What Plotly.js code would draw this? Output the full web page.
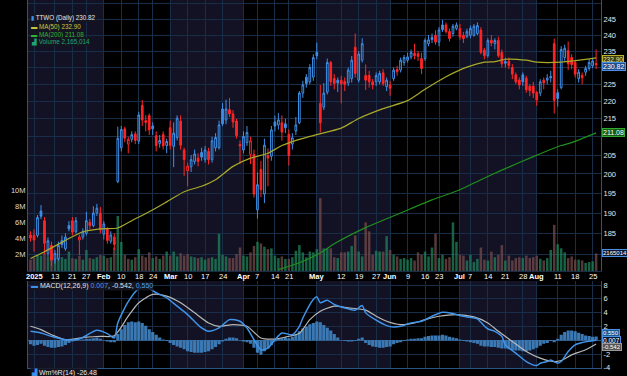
<!DOCTYPE html>
<html><head><meta charset="utf-8">
<script src="https://cdn.plot.ly/plotly-3.0.1.min.js"></script>
<style>html,body{margin:0;padding:0;background:#000;}#chart{width:627px;height:376px;}</style>
</head><body><div id="chart"></div>
<script>
const dates = ["2024-12-31",
"2025-01-02","2025-01-03","2025-01-06","2025-01-07","2025-01-08","2025-01-10","2025-01-13","2025-01-14","2025-01-15","2025-01-16","2025-01-17","2025-01-21","2025-01-22","2025-01-23","2025-01-24","2025-01-27","2025-01-28","2025-01-29","2025-01-30","2025-01-31",
"2025-02-03","2025-02-04","2025-02-05","2025-02-06","2025-02-07","2025-02-10","2025-02-11","2025-02-12","2025-02-13","2025-02-14","2025-02-18","2025-02-19","2025-02-20","2025-02-21","2025-02-24","2025-02-25","2025-02-26","2025-02-27","2025-02-28",
"2025-03-03","2025-03-04","2025-03-05","2025-03-06","2025-03-07","2025-03-10","2025-03-11","2025-03-12","2025-03-13","2025-03-14","2025-03-17","2025-03-18","2025-03-19","2025-03-20","2025-03-21","2025-03-24","2025-03-25","2025-03-26","2025-03-27","2025-03-28","2025-03-31",
"2025-04-01","2025-04-02","2025-04-03","2025-04-04","2025-04-07","2025-04-08","2025-04-09","2025-04-10","2025-04-11","2025-04-14","2025-04-15","2025-04-16","2025-04-17","2025-04-21","2025-04-22","2025-04-23","2025-04-24","2025-04-25","2025-04-28","2025-04-29","2025-04-30",
"2025-05-01","2025-05-02","2025-05-05","2025-05-06","2025-05-07","2025-05-08","2025-05-09","2025-05-12","2025-05-13","2025-05-14","2025-05-15","2025-05-16","2025-05-19","2025-05-20","2025-05-21","2025-05-22","2025-05-23","2025-05-27","2025-05-28","2025-05-29","2025-05-30",
"2025-06-02","2025-06-03","2025-06-04","2025-06-05","2025-06-06","2025-06-09","2025-06-10","2025-06-11","2025-06-12","2025-06-13","2025-06-16","2025-06-17","2025-06-18","2025-06-20","2025-06-23","2025-06-24","2025-06-25","2025-06-26","2025-06-27","2025-06-30",
"2025-07-01","2025-07-02","2025-07-03","2025-07-07","2025-07-08","2025-07-09","2025-07-10","2025-07-11","2025-07-14","2025-07-15","2025-07-16","2025-07-17","2025-07-18","2025-07-21","2025-07-22","2025-07-23","2025-07-24","2025-07-25","2025-07-28","2025-07-29","2025-07-30","2025-07-31",
"2025-08-01","2025-08-04","2025-08-05","2025-08-06","2025-08-07","2025-08-08","2025-08-11","2025-08-12","2025-08-13","2025-08-14","2025-08-15","2025-08-18","2025-08-19","2025-08-20","2025-08-21","2025-08-22","2025-08-25","2025-08-26"];

const open = [184.6,184.5,184.5,190.5,188.1,180.2,182.1,178.8,179.0,183.3,181.3,186.9,188.1,185.4,183.4,184.1,185.0,187.7,186.9,190.0,190.0,
184.8,186.0,183.1,184.1,198.0,207.0,212.2,208.0,209.3,210.8,208.8,218.8,214.5,215.9,213.0,210.3,208.2,210.6,207.6,
212.5,207.4,209.8,214.4,206.4,200.8,201.9,203.3,204.2,205.7,203.8,206.0,203.8,207.0,207.0,217.8,214.7,217.6,216.4,214.4,207.9,
206.4,208.4,205.2,205.2,190.8,201.2,194.8,204.9,204.7,214.1,213.3,213.9,213.6,210.7,208.0,211.6,213.9,222.4,227.1,225.7,227.1,
234.6,219.4,218.3,222.7,231.5,226.7,226.2,226.2,225.8,225.4,226.7,236.2,226.2,232.2,227.6,227.6,225.7,225.7,225.7,228.4,224.3,
224.8,226.7,229.4,229.2,231.5,232.2,233.2,234.3,234.2,232.7,232.7,237.3,239.3,239.9,237.8,243.2,243.2,241.1,240.5,242.1,
242.1,239.9,239.6,239.9,239.9,240.5,241.6,235.3,233.6,238.4,237.3,238.3,234.6,231.8,231.9,230.0,227.8,226.2,227.8,226.8,224.4,224.4,
222.6,222.4,226.2,226.2,227.3,237.3,222.5,224.0,233.0,235.2,233.0,231.5,226.7,227.6,228.6,229.7,230.5,231.2];
const high = [185.5,186.0,189.5,192.0,189.0,184.0,183.0,181.0,183.0,184.5,185.0,188.0,189.0,189.0,184.7,186.2,190.3,188.5,191.7,192.3,191.5,
188.0,186.5,185.5,185.0,212.8,213.0,212.8,210.0,211.5,211.5,217.0,220.4,216.0,216.5,214.0,211.5,210.5,211.5,209.5,
214.5,214.0,216.0,216.0,207.0,203.0,205.0,206.5,205.5,207.0,207.5,207.0,210.0,211.0,214.5,219.5,220.5,221.0,217.5,215.0,209.0,
211.5,213.0,210.0,206.5,200.4,203.5,209.5,206.8,213.0,215.9,216.6,216.0,215.0,212.0,211.0,215.5,223.0,226.0,228.0,231.0,234.0,
237.6,224.8,225.3,232.7,232.0,228.0,227.0,227.5,227.0,230.0,233.5,240.5,235.0,239.0,230.9,229.0,226.5,228.5,229.0,229.5,227.0,
226.0,230.0,230.5,233.0,233.8,234.5,235.5,237.3,235.0,234.5,239.0,240.0,240.5,241.5,242.5,244.8,244.0,242.0,243.5,244.0,
243.5,241.0,242.0,243.0,243.5,244.0,242.5,236.0,239.0,240.0,239.0,239.5,235.5,233.0,233.0,231.0,228.5,227.0,228.5,227.5,225.0,225.7,
223.0,226.5,227.0,228.0,229.0,238.9,223.5,236.5,237.0,238.0,234.0,232.0,229.5,228.5,230.5,232.5,232.8,235.5];
const low = [183.0,180.6,184.0,188.5,180.0,179.5,177.2,177.8,178.5,181.5,180.8,185.5,184.5,185.0,179.8,183.5,184.5,186.0,186.5,189.3,185.0,
183.5,182.5,182.5,181.0,197.6,206.0,208.5,205.5,208.5,208.0,208.0,213.0,211.5,210.5,210.5,206.0,207.0,206.5,205.5,
206.5,201.8,209.0,206.5,199.5,196.8,200.5,202.5,202.0,203.5,203.0,202.5,203.0,206.0,206.5,213.0,213.5,215.5,212.5,209.5,202.6,
205.5,207.5,202.6,193.9,188.6,194.0,192.5,196.8,203.5,211.5,212.0,208.9,211.0,202.2,206.5,210.5,213.5,221.0,224.0,225.0,226.0,
232.5,211.2,217.5,222.0,224.5,223.5,222.7,219.4,223.0,224.5,225.5,227.0,225.5,231.5,223.3,224.0,223.5,224.5,225.0,224.5,223.0,
221.6,226.0,227.5,228.5,230.5,231.5,232.5,232.5,232.0,228.0,232.0,236.5,237.5,237.0,236.5,241.0,240.5,238.0,239.5,241.5,
238.5,237.5,239.0,239.0,239.5,240.0,234.0,232.5,233.0,236.5,235.5,233.0,230.0,230.0,229.5,226.5,225.0,223.5,224.5,222.5,221.5,221.0,
218.7,221.5,223.5,225.0,225.5,216.5,218.5,223.5,232.0,229.2,229.5,227.0,225.5,225.0,227.5,229.0,229.8,229.5];
const close = [183.9,183.4,188.9,189.2,182.6,183.2,178.6,180.2,182.1,182.3,184.1,186.1,185.3,188.1,184.1,185.4,188.1,186.9,190.0,191.2,185.8,
187.3,183.3,184.6,182.3,209.6,212.0,209.6,209.3,210.6,209.0,216.1,214.7,214.0,211.9,212.2,207.6,209.0,207.5,208.7,
207.6,211.0,215.2,207.7,203.8,202.1,203.8,205.3,203.3,204.5,206.4,203.8,208.9,209.8,213.3,213.6,217.8,216.4,214.1,210.3,207.5,
210.1,211.2,208.9,194.8,197.2,195.9,207.7,204.2,211.9,213.0,214.7,211.3,212.5,204.9,209.7,213.3,222.4,224.8,225.2,230.0,233.0,
233.6,213.9,222.4,231.5,225.7,225.2,225.4,225.1,224.9,229.2,232.2,228.2,234.1,237.3,226.2,225.7,224.8,227.6,228.2,225.2,226.2,
223.8,229.2,228.7,232.2,233.0,233.2,234.6,233.6,233.4,229.7,238.3,238.5,238.6,237.8,241.6,241.7,241.1,238.9,242.8,243.2,
239.4,238.9,241.1,242.1,242.8,243.0,234.6,233.6,238.3,237.5,238.3,233.6,231.1,231.3,230.6,228.0,225.7,224.8,225.7,223.4,223.1,222.4,
220.4,225.7,225.4,226.8,226.9,220.3,220.8,235.5,235.9,231.1,230.9,228.0,228.6,226.9,229.7,231.5,232.0,230.82];
const prevCloseBefore = 185.0;

const volumeM = [1.4,
1.6,2.0,1.9,2.2,1.8,2.1,1.5,1.6,1.7,1.5,2.4,1.6,1.5,1.9,1.4,2.6,1.6,1.5,1.7,2.0,
1.9,1.6,1.7,2.9,6.8,3.6,2.0,1.5,1.4,1.7,2.7,1.9,1.7,2.3,1.6,1.8,1.5,1.9,2.4,
1.9,2.4,1.8,2.2,1.9,2.1,1.8,1.7,1.6,1.7,1.4,1.6,1.7,1.5,4.6,2.0,1.8,1.6,1.6,2.1,2.9,
1.9,1.8,2.3,3.1,3.6,3.4,3.0,2.7,2.8,1.9,1.6,1.8,1.5,1.5,1.7,2.5,3.2,2.3,1.7,2.4,2.3,
2.7,9.0,2.8,2.8,2.8,1.7,1.6,2.3,2.3,2.4,3.1,4.4,2.4,1.8,6.0,4.9,2.0,2.5,2.4,2.4,4.3,
2.6,2.0,1.8,1.5,1.6,1.4,1.6,1.3,2.3,2.0,2.4,1.8,2.9,4.6,1.6,2.0,1.5,1.7,6.0,3.6,
2.0,1.9,1.3,2.0,1.1,1.5,2.9,1.4,1.3,2.4,1.7,2.0,3.2,1.3,1.9,1.3,1.6,1.7,1.6,1.9,1.6,1.7,
1.9,1.5,1.3,1.6,2.6,5.7,3.3,2.8,2.3,1.6,1.8,1.4,1.4,1.3,1.0,1.1,1.2,2.165014];

const ma50At = [0,4,10,15,20,25,29,34,39,44,49,53,58,63,68,72,77,82,89,94,101,108,113,119,125,130,133,136,142,145,152,162];
const ma50 = [179.0,180.6,183.3,185.4,186.1,186.3,188.1,190.3,192.8,195.4,196.8,198.5,202.0,204.2,205.5,207.6,209.3,210.6,212.4,215.1,217.9,220.2,223.5,227.2,230.1,231.6,231.8,232.5,232.2,231.6,231.6,232.90];
const ma200At = [71,77,83,87,96,106,115,123,129,135,144,152,155,162];
const ma200 = [176.4,178.0,180.3,182.5,186.4,190.0,193.3,195.9,198.5,201.0,204.6,207.6,208.4,211.08];

const macdAt = [0,3,6,10,14,19,22,24,25,28,31,33,36,39,42,45,49,51,54,57,60,62,64,66,68,70,72,75,77,78,81,82,83,85,87,91,93,95,96,99,102,104,106,109,112,115,118,121,123,125,128,129,131,133,135,136,139,142,145,146,148,149,151,152,154,156,158,162];
const macd = [1.29,1.05,0.56,0.07,0.17,1.44,0.95,0.32,2.5,5.6,7.47,7.76,6.89,6.16,4.94,3.72,1.78,1.29,1.78,2.99,2.75,1.78,0.07,-1.39,-1.14,0.07,1.05,0.80,2.02,3.23,5.91,6.30,5.43,5.81,5.18,4.55,4.36,5.04,3.97,2.90,2.12,1.92,2.02,2.51,2.75,3.48,4.06,3.87,3.58,3.38,3.09,2.60,1.63,1.29,0.56,-0.66,-1.87,-3.09,-3.67,-3.33,-3.09,-2.85,-3.33,-3.09,-1.63,-0.66,-0.32,0.007];
const signalAt = [0,3,6,10,16,20,24,28,31,35,39,43,47,51,54,58,62,66,70,73,77,80,83,87,91,96,99,102,106,110,113,117,122,127,131,134,138,142,146,150,152,155,159,162];
const signal = [2.02,1.53,0.80,0.07,0.46,0.56,0.66,3.48,5.43,6.64,6.40,5.43,3.97,2.51,2.02,2.26,2.02,0.32,0.17,0.46,1.0,2.99,4.21,4.94,4.70,4.36,3.48,2.75,2.26,2.51,2.99,3.48,3.72,3.38,2.51,1.29,-0.17,-1.63,-2.60,-3.09,-2.94,-2.12,-1.39,-0.542];
const hist = [-0.6,-0.8,-0.7,-0.5,-0.8,-1.0,-1.1,-1.1,-1.0,-0.9,-0.7,-0.4,-0.2,-0.1,0.0,0.1,0.2,0.2,0.3,0.4,0.2,
0.0,-0.2,-0.3,-0.3,0.9,1.6,2.2,2.6,2.7,2.6,2.7,2.5,2.1,1.6,1.2,0.8,0.4,0.1,-0.1,
-0.4,-0.7,-0.9,-1.1,-1.3,-1.6,-1.7,-1.8,-1.8,-1.8,-1.7,-1.6,-1.3,-1.0,-0.6,-0.2,0.2,0.4,0.4,0.3,0.0,
-0.2,-0.3,-0.5,-1.1,-1.8,-2.1,-1.6,-1.2,-0.7,-0.2,0.2,0.3,0.4,0.3,0.5,0.8,1.3,1.7,2.0,2.3,2.5,
2.7,2.6,2.2,1.8,1.4,0.9,0.4,0.0,-0.1,-0.2,-0.2,-0.1,0.2,0.4,-0.4,-0.7,-0.9,-1.0,-1.1,-1.1,-1.0,
-0.9,-0.6,-0.4,-0.3,-0.1,0.1,0.2,0.2,0.3,0.3,0.5,0.6,0.7,0.7,0.7,0.8,0.7,0.5,0.4,0.3,
0.1,-0.1,-0.2,-0.3,-0.4,-0.5,-0.8,-0.9,-0.9,-1.0,-1.0,-1.1,-1.2,-1.2,-1.3,-1.4,-1.5,-1.5,-1.6,-1.6,-1.5,-1.3,
-1.1,-0.8,-0.5,-0.4,-0.1,-0.3,0.2,0.8,1.2,1.4,1.4,1.3,1.1,0.9,0.7,0.6,0.5,0.55];
const wmr = -26.48;

const tickDates = ["2025-01-02","2025-01-13","2025-01-21","2025-01-27","2025-02-03","2025-02-10","2025-02-18","2025-02-24","2025-03-03","2025-03-10","2025-03-17","2025-03-24","2025-04-01","2025-04-07","2025-04-14","2025-04-21","2025-05-01","2025-05-12","2025-05-19","2025-05-27","2025-06-02","2025-06-09","2025-06-16","2025-06-23","2025-07-01","2025-07-07","2025-07-14","2025-07-21","2025-07-28","2025-08-01","2025-08-11","2025-08-18","2025-08-25"];
const tickLabels = ["<b>2025</b>","13","21","27","<b>Feb</b>","10","18","24","<b>Mar</b>","10","17","24","<b>Apr</b>","7","14","21","<b>May</b>","12","19","27","<b>Jun</b>","9","16","23","<b>Jul</b>","7","14","21","28","<b>Aug</b>","11","18","25"];
const bandMonths = [["2024-12-31","2025-02-03"],["2025-03-03","2025-04-01"],["2025-05-01","2025-06-02"],["2025-07-01","2025-08-01"]];
const priceTicks = [180,185,190,195,200,205,210,215,220,225,230,235,240,245,250];
const priceTickText = ["","185","190","195","200","205","","215","220","225","","235","240","245","250"];
const volTicks = [2e6,4e6,6e6,8e6,10e6];
const volTickText = ["2M","4M","6M","8M","10M"];
const macdTicks = [-4,-2,0,2,4,6,8];
const macdTickText = ["-4","-2","","2","4","6","8"];

// ---- styling ----
const BLUE = '#3f8fe8', RED = '#ff2626', GRID = '#182d48', AXIS = '#2b5585';
const FONT = 'Liberation Sans, Arial, sans-serif';
const N = dates.length;
const volume = volumeM.map(v => v * 1e6);
const prev = close.map((c, k) => k === 0 ? prevCloseBefore : close[k - 1]);
const upIdx = [], dnIdx = [];
for (let k = 0; k < N; k++) (close[k] >= prev[k] ? upIdx : dnIdx).push(k);
const pick = (arr, idx) => idx.map(k => arr[k]);
const X_LEFT = -0.72, X_RIGHT = 163.4;

function candle(idx, col) {
  return {type: 'candlestick', xaxis: 'x', yaxis: 'y2',
    x: pick(dates, idx), open: pick(open, idx), high: pick(high, idx), low: pick(low, idx), close: pick(close, idx),
    increasing: {line: {color: col, width: 1}, fillcolor: 'rgba(0,0,0,0)'},
    decreasing: {line: {color: col, width: 1}, fillcolor: col},
    whiskerwidth: 0, hoverinfo: 'skip', showlegend: false};
}

const traces = [
  {type: 'bar', x: dates, y: volume, xaxis: 'x', yaxis: 'y', width: 0.72,
   marker: {color: close.map((c, k) => c >= prev[k] ? 'rgba(30,125,88,0.78)' : 'rgba(112,72,72,0.78)'), line: {width: 0}},
   hoverinfo: 'skip'},
  {type: 'scatter', mode: 'lines', x: ma200At.map(k => dates[k]), y: ma200, xaxis: 'x', yaxis: 'y2',
   line: {color: '#1f8f1f', width: 1.2, shape: 'spline', smoothing: 0.6}, hoverinfo: 'skip'},
  {type: 'scatter', mode: 'lines', x: ma50At.map(k => dates[k]), y: ma50, xaxis: 'x', yaxis: 'y2',
   line: {color: '#a9a92a', width: 1.2, shape: 'spline', smoothing: 0.6}, hoverinfo: 'skip'},
  candle(upIdx, BLUE),
  candle(dnIdx, RED),
  {type: 'bar', x: dates, y: hist, xaxis: 'x2', yaxis: 'y3', width: 0.9,
   marker: {color: 'rgba(62,128,190,0.95)', line: {width: 0}}, hoverinfo: 'skip'},
  {type: 'scatter', mode: 'lines', x: signalAt.map(k => dates[k]), y: signal, xaxis: 'x2', yaxis: 'y3',
   line: {color: '#b8b8b8', width: 1.2, shape: 'spline', smoothing: 0.7}, hoverinfo: 'skip'},
  {type: 'scatter', mode: 'lines', x: macdAt.map(k => dates[k]), y: macd, xaxis: 'x2', yaxis: 'y3',
   line: {color: '#3f93e8', width: 1.5, shape: 'spline', smoothing: 0.7}, hoverinfo: 'skip'}
];

// pixel helpers (plot area = x 28..601, full height)
const PL = 28, PW = 573, H = 376;
const px = p => (p - PL) / PW, py = p => (H - p) / H;

const shapes = [];
bandMonths.forEach(([a, b]) => {
  const x0 = a === dates[0] ? X_LEFT : dates.indexOf(a);
  const x1 = dates.indexOf(b);
  ['y domain', 'y3 domain'].forEach(yr => shapes.push({type: 'rect', xref: 'x', yref: yr, x0, x1, y0: 0, y1: 1,
    fillcolor: '#121224', line: {width: 0}, layer: 'below'}));
});
shapes.push({type: 'line', xref: 'paper', yref: 'paper', x0: 0, x1: 1, y0: py(368.5), y1: py(368.5), line: {color: AXIS, width: 1}});

const last = N - 1;
const fmt2 = v => v.toFixed(2);
const volStr = Math.round(volume[last]).toLocaleString('en-US');
const tag = (text, yref, y, bg, border, color, size) => ({xref: 'paper', yref, x: 1, y, xanchor: 'left', yanchor: 'middle', xshift: 1,
  text, showarrow: false, bgcolor: bg, bordercolor: border, borderwidth: 1, borderpad: 0, font: {size: size || 7, color, family: FONT}});
const leg = (text, ypix, size) => ({xref: 'paper', yref: 'paper', x: px(30), y: py(ypix), xanchor: 'left', yanchor: 'middle',
  text, showarrow: false, bgcolor: 'rgba(22,22,34,0.85)', borderpad: 0, font: {size: size || 6.3, family: FONT, color: '#e4e4e4'}});

const annotations = [
  leg('<span style="color:' + BLUE + '">▮</span> TTWO (Daily) ' + fmt2(close[last]), 18.5),
  leg('<span style="color:#c8c83a">▬ MA(50) ' + fmt2(ma50[ma50.length - 1]) + '</span>', 26.5),
  leg('<span style="color:#33b533">▬ MA(200) ' + fmt2(ma200[ma200.length - 1]) + '</span>', 34.5),
  leg('<span style="color:#1fa577">▟ Volume ' + volStr + '</span>', 42.5),
  leg('<span style="color:' + BLUE + '">▬</span> MACD(12,26,9) <span style="color:#4a9cf0">' + macd[macd.length - 1].toFixed(3) + '</span>, ' + signal[signal.length - 1].toFixed(3) + ', <span style="color:#4a9cf0">' + hist[last].toFixed(3) + '</span>', 286.3, 7),
  leg('<span style="color:' + BLUE + '">▟</span> Wm%R(14) ' + fmt2(wmr), 372.3, 7),
  Object.assign(tag(fmt2(ma50[ma50.length - 1]), 'y2', Math.log10(ma50[ma50.length - 1]), '#3d3d0c', '#b6b628', '#e8e8a8', 6.5), {yshift: -2}),
  Object.assign(tag(fmt2(close[last]), 'y2', Math.log10(close[last]), '#1c4f8c', '#4a90e2', '#ffffff'), {yshift: -2}),
  tag(fmt2(ma200[ma200.length - 1]), 'y2', Math.log10(ma200[ma200.length - 1]), '#155a15', '#2faa2f', '#ffffff'),
  tag(String(Math.round(volume[last])), 'y', volume[last], '#0c1c34', '#4a90e2', '#ffffff', 6),
  Object.assign(tag(hist[last].toFixed(3), 'y3', hist[last], '#1c5a96', '#4a90e2', '#ffffff', 6), {yshift: 3.5}),
  tag(macd[macd.length - 1].toFixed(3), 'y3', macd[macd.length - 1], '#0c1c34', '#4a90e2', '#ffffff', 6.5),
  Object.assign(tag(signal[signal.length - 1].toFixed(3), 'y3', signal[signal.length - 1], '#555555', '#9a9a9a', '#ffffff', 6), {yshift: -3})
];
// date labels placed just below the price panel
tickDates.forEach((d, k) => annotations.push({xref: 'x', yref: 'paper', x: d, y: py(276.3), xanchor: 'center', yanchor: 'middle',
  text: tickLabels[k], showarrow: false, font: {size: 7.5, color: '#ffffff', family: FONT}}));

const xCommon = {type: 'category', categoryorder: 'array', categoryarray: dates, range: [X_LEFT, X_RIGHT],
  tickmode: 'array', tickvals: tickDates, ticktext: tickLabels, showgrid: true, gridcolor: GRID, gridwidth: 1,
  zeroline: false, ticks: '', fixedrange: true, rangeslider: {visible: false}, showticklabels: false};

const layout = {
  width: 627, height: 376, margin: {l: 28, r: 26, t: 0, b: 0},
  paper_bgcolor: '#000000', plot_bgcolor: '#000000', showlegend: false, hovermode: false,
  font: {family: FONT, size: 7.5, color: '#e6e6e6'},
  xaxis: Object.assign({}, xCommon, {anchor: 'y', showline: true, linecolor: GRID}),
  xaxis2: Object.assign({}, xCommon, {anchor: 'y3', matches: 'x', showline: false}),
  yaxis: {domain: [py(271), 1], range: [0, 33.46e6], side: 'left', tickmode: 'array', tickvals: volTicks, ticktext: volTickText,
    showgrid: false, zeroline: false, showline: true, linecolor: AXIS, ticks: '', tickfont: {size: 7.5, color: '#dddddd'}, fixedrange: true},
  yaxis2: {overlaying: 'y', side: 'right', type: 'log', range: [Math.log10(176.08), Math.log10(251.3)],
    tickmode: 'array', tickvals: priceTicks, ticktext: priceTickText,
    showgrid: true, gridcolor: GRID, gridwidth: 1, zeroline: false, showline: true, linecolor: AXIS, ticks: '',
    tickfont: {size: 7.5, color: '#e8e8e8'}, fixedrange: true},
  yaxis3: {domain: [py(368.5), py(281)], anchor: 'x2', side: 'right', range: [-4.1, 8.59],
    tickmode: 'array', tickvals: macdTicks, ticktext: macdTickText, showgrid: true, gridcolor: GRID, gridwidth: 1,
    zeroline: true, zerolinecolor: '#2f5680', zerolinewidth: 1, showline: true, mirror: true, linecolor: AXIS, ticks: '',
    tickfont: {size: 7.5, color: '#e8e8e8'}, fixedrange: true},
  shapes, annotations
};

Plotly.newPlot('chart', traces, layout, {staticPlot: true, displayModeBar: false});
</script>
</body></html>
